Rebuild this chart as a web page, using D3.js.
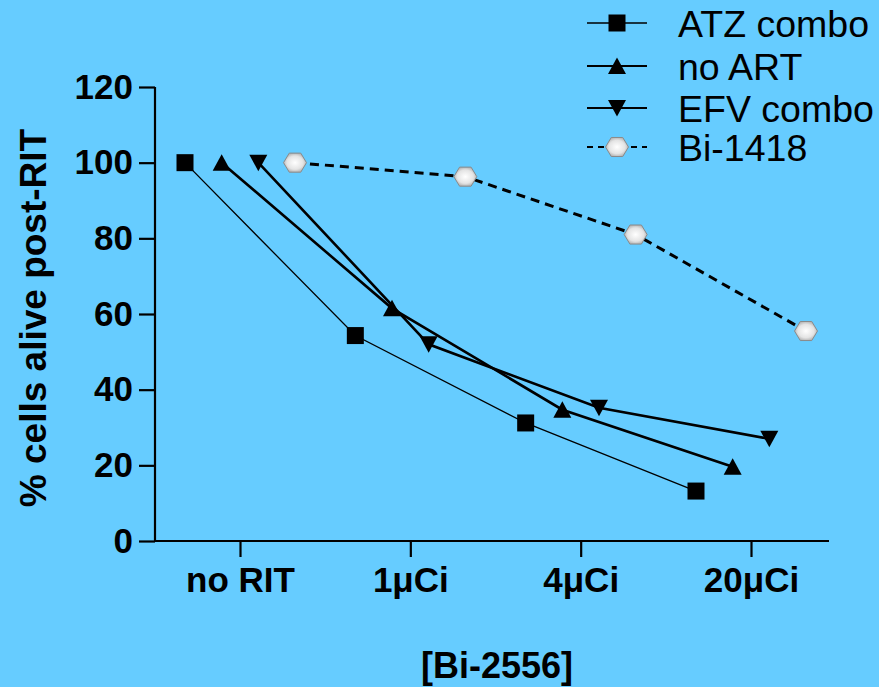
<!DOCTYPE html>
<html>
<head>
<meta charset="utf-8">
<script src="https://cdn.jsdelivr.net/npm/d3@7"></script>
<style>
  body { margin: 0; background: #66CCFF; }
  svg { display: block; font-family: "Liberation Sans", Arial, sans-serif; }
</style>
</head>
<body>
<svg id="chart" width="879" height="687"></svg>
<script>
// data
var categories = ["no RIT", "1\u03BCCi", "4\u03BCCi", "20\u03BCCi"];
var seriesNames = ["ATZ combo", "no ART", "EFV combo", "Bi-1418"];
var atzCombo = [100, 54.3, 31.2, 13.2];
var noArt = [100, 61.5, 34.7, 19.6];
var efvCombo = [100, 52, 35.2, 27];
var bi1418 = [100, 96.3, 81, 55.5];
var yTicks = [0, 20, 40, 60, 80, 100, 120];

var allValues = [atzCombo, noArt, efvCombo, bi1418];

var svg = d3.select("#chart");
svg.append("rect").attr("width", 879).attr("height", 687).attr("fill", "#66CCFF");

var x = d3.scalePoint().domain(categories).range([240, 751]);
var xOff = d3.scalePoint().domain(seriesNames).range([-55, 55]);
var y = d3.scaleLinear().domain([0, 120]).range([541, 87]);

// marker shapes
function markerPath(kind) {
    if (kind == "square") return "M-8.5,-8.5H8.5V8.5H-8.5Z";
    if (kind == "up") return "M0,-8.5L9,8L-9,8Z";
    if (kind == "down") return "M0,8.5L9,-8L-9,-8Z";
    // hexagon, points left/right
    var pts = d3.range(6).map(function(i) {
        var a = i * Math.PI / 3;
        return [11.5 * Math.cos(a), 11 * Math.sin(a)];
    });
    return "M" + pts.join("L") + "Z";
}

var style = [
    { kind: "square", width: 1.3, dash: null },
    { kind: "up", width: 2.6, dash: null },
    { kind: "down", width: 2.6, dash: null },
    { kind: "hex", width: 3, dash: "9,6" }
];

var defs = svg.append("defs");
var grad = defs.append("radialGradient").attr("id", "hexFill");
grad.append("stop").attr("offset", "0%").attr("stop-color", "#ffffff");
grad.append("stop").attr("offset", "70%").attr("stop-color", "#e4e4e4");
grad.append("stop").attr("offset", "100%").attr("stop-color", "#b8b8b8");

// axes
var yAxis = d3.axisLeft(y).tickValues(yTicks).tickSize(16).tickPadding(6);
var gy = svg.append("g").attr("transform", "translate(155,0)").call(yAxis);
gy.select(".domain").attr("d", "M0," + y(120) + "V" + (y(0) + 1));

var xAxis = d3.axisBottom(x).tickSize(16).tickPadding(10);
var gx = svg.append("g").attr("transform", "translate(0,541)").call(xAxis);
gx.select(".domain").attr("d", "M154,0H829");

svg.selectAll(".domain, .tick line").attr("stroke", "#000").attr("stroke-width", 2.2);
svg.selectAll(".tick text")
    .attr("fill", "#000")
    .style("font-size", "35px")
    .style("font-weight", "bold");
gx.selectAll(".tick text").attr("dy", "0.71em");

svg.append("text")
    .attr("transform", "translate(46,318) rotate(-90)")
    .attr("text-anchor", "middle")
    .style("font-size", "37px")
    .style("font-weight", "bold")
    .text("% cells alive post-RIT");

svg.append("text")
    .attr("x", 497).attr("y", 678)
    .attr("text-anchor", "middle")
    .style("font-size", "36px")
    .style("font-weight", "bold")
    .text("[Bi-2556]");

// series lines and markers
var line = d3.line();
seriesNames.forEach(function(name, s) {
    var pts = allValues[s].map(function(v, i) {
        return [x(categories[i]) + xOff(name), y(v)];
    });
    svg.append("path")
        .attr("d", line(pts))
        .attr("fill", "none")
        .attr("stroke", "#000")
        .attr("stroke-width", style[s].width)
        .attr("stroke-dasharray", style[s].dash);
    svg.selectAll(".m" + s).data(pts).enter().append("path")
        .attr("class", "m" + s)
        .attr("transform", function(d) { return "translate(" + d[0] + "," + d[1] + ")"; })
        .attr("d", markerPath(style[s].kind))
        .attr("fill", style[s].kind == "hex" ? "url(#hexFill)" : "#000")
        .attr("stroke", style[s].kind == "hex" ? "#8a8a8a" : "none")
        .attr("stroke-width", 1);
});

// legend
var legendY = [23, 66, 108, 147];
var legend = svg.append("g");
seriesNames.forEach(function(name, s) {
    var row = legend.append("g").attr("transform", "translate(0," + legendY[s] + ")");
    row.append("line")
        .attr("x1", 587).attr("x2", 647)
        .attr("stroke", "#000")
        .attr("stroke-width", s == 0 ? 1.5 : 2)
        .attr("stroke-dasharray", style[s].dash ? "6,5" : null);
    row.append("path")
        .attr("transform", "translate(617,0)")
        .attr("d", markerPath(style[s].kind))
        .attr("fill", style[s].kind == "hex" ? "url(#hexFill)" : "#000")
        .attr("stroke", style[s].kind == "hex" ? "#8a8a8a" : "none");
    row.append("text")
        .attr("x", 678).attr("dy", "0.36em")
        .style("font-size", "37.5px")
        .text(name);
});
</script>
</body>
</html>
